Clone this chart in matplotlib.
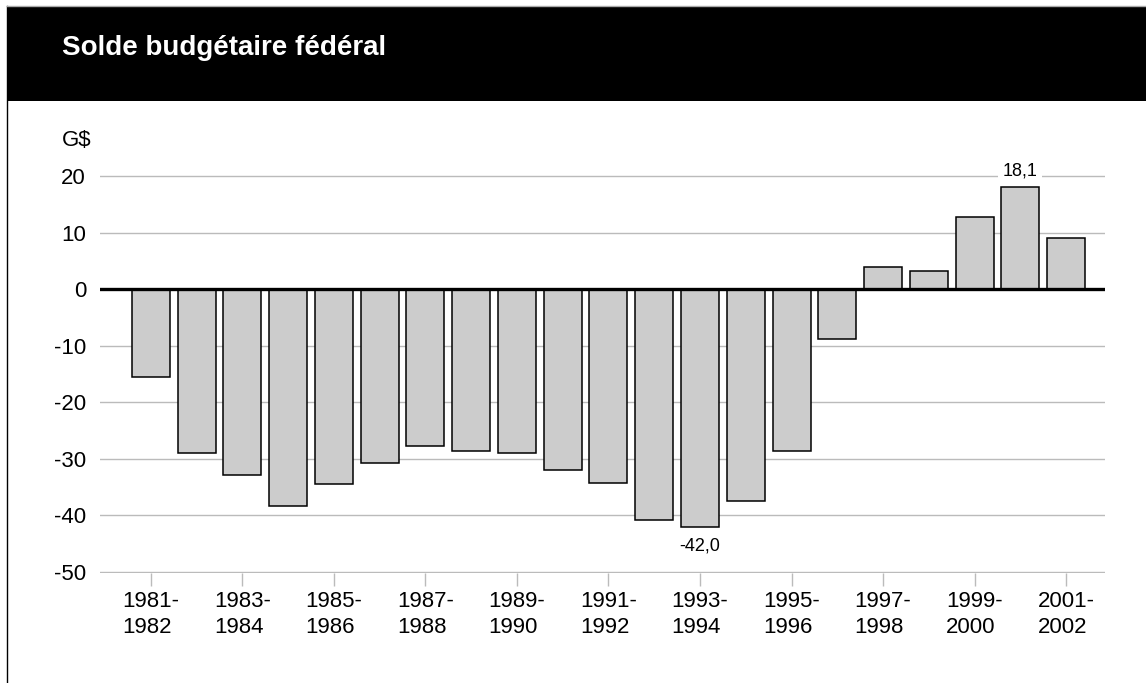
import matplotlib.pyplot as plt
from matplotlib import font_manager
from matplotlib.patches import Rectangle
from matplotlib.lines import Line2D

# Données (G$)
annees = ["1981-\n1982", "1982-\n1983", "1983-\n1984", "1984-\n1985", "1985-\n1986",
          "1986-\n1987", "1987-\n1988", "1988-\n1989", "1989-\n1990", "1990-\n1991",
          "1991-\n1992", "1992-\n1993", "1993-\n1994", "1994-\n1995", "1995-\n1996",
          "1996-\n1997", "1997-\n1998", "1998-\n1999", "1999-\n2000", "2000-\n2001",
          "2001-\n2002"]
solde = [-15.6, -29.0, -32.9, -38.4, -34.5, -30.7, -27.7, -28.7, -28.9, -32.0,
         -34.3, -40.9, -42.0, -37.4, -28.6, -8.8, 3.9, 3.2, 12.8, 18.1, 9.0]
yticks = [-50, -40, -30, -20, -10, 0, 10, 20]
titre = "Solde budgétaire fédéral"

noms = {f.name for f in font_manager.fontManager.ttflist}
police = "Liberation Sans" if "Liberation Sans" in noms else "DejaVu Sans"
plt.rcParams['font.family'] = [police, 'DejaVu Sans']

W, H = 1146, 683
fig = plt.figure(figsize=(W / 100, H / 100), dpi=100)

# Bandeau noir du titre + cadre gauche
fig.patches.append(Rectangle((7 / W, 1 - 101 / H), 1, 95 / H, transform=fig.transFigure,
                             facecolor="black", edgecolor="none"))
fig.lines.append(Line2D([7 / W, 7 / W], [0, 1 - 6 / H], transform=fig.transFigure,
                        color="black", lw=1))
fig.lines.append(Line2D([7 / W, 1], [1 - 6 / H, 1 - 6 / H], transform=fig.transFigure,
                        color="#aaaaaa", lw=1))
fig.text(62 / W, 1 - 55 / H, titre, color="white", fontsize=20, fontweight="bold",
         va="baseline", ha="left")

ax = fig.add_axes([100 / W, (H - 573) / H, 1005 / W, (573 - 164.7) / H])
x = list(range(len(solde)))
ax.bar(x, solde, width=0.83, color="#cccccc", edgecolor="black", linewidth=1.1, zorder=3)
ax.axhline(0, color="black", lw=2.4, zorder=4)

ax.set_xlim(-1.11, 20.85)
ax.set_ylim(-50.2, 22)
ax.set_yticks(yticks)
ax.set_yticklabels([str(v) for v in yticks])
ax.yaxis.grid(True, color="#bbbbbb", lw=1, zorder=0)
ax.set_axisbelow(True)
for s in ax.spines.values():
    s.set_visible(False)
ax.tick_params(axis="y", length=0, pad=10, labelsize=16)

ax.set_xticks(x[::2])
ax.set_xticklabels(annees[::2])
ax.tick_params(axis="x", length=9, color="#bbbbbb", width=1, pad=4, labelsize=16)
for lbl in ax.get_xticklabels():
    lbl.set_multialignment("left")
    lbl.set_linespacing(1.3)

fig.text(62 / W, 1 - 141 / H, "G$", fontsize=16, va="center", ha="left")

ax.annotate("18,1", (19, 18.1), xytext=(0, 5), textcoords="offset points",
            ha="center", va="bottom", fontsize=13, zorder=5,
            bbox=dict(boxstyle="square,pad=0.25", facecolor="white", edgecolor="none"))
ax.annotate("-42,0", (12, -42.0), xytext=(0, -8), textcoords="offset points",
            ha="center", va="top", fontsize=13, zorder=5)

fig.savefig("out.png", dpi=100)
